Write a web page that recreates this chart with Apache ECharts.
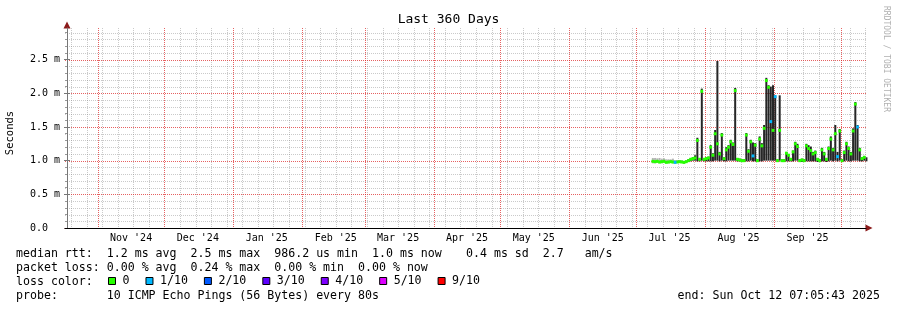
<!DOCTYPE html>
<html><head><meta charset="utf-8">
<script src="https://cdn.jsdelivr.net/npm/echarts@6/dist/echarts.min.js"></script>
<style>html,body{margin:0;padding:0;background:#fff}#c{width:897px;height:310px}</style>
</head><body><div id="c"></div>
<script>
// ---------- data ----------
const dates = [
'2025-07-08','2025-07-09','2025-07-10','2025-07-11','2025-07-12','2025-07-13','2025-07-14','2025-07-15','2025-07-16','2025-07-17','2025-07-18','2025-07-19','2025-07-20','2025-07-21','2025-07-22','2025-07-23','2025-07-24','2025-07-25','2025-07-26','2025-07-27','2025-07-28','2025-07-29','2025-07-30','2025-07-31',
'2025-08-01','2025-08-02','2025-08-03','2025-08-04','2025-08-05','2025-08-06','2025-08-07','2025-08-08','2025-08-09','2025-08-10','2025-08-11','2025-08-12','2025-08-13','2025-08-14','2025-08-15','2025-08-16','2025-08-17','2025-08-18','2025-08-19','2025-08-20','2025-08-21','2025-08-22','2025-08-23','2025-08-24','2025-08-25','2025-08-26','2025-08-27','2025-08-28','2025-08-29','2025-08-30','2025-08-31',
'2025-09-01','2025-09-02','2025-09-03','2025-09-04','2025-09-05','2025-09-06','2025-09-07','2025-09-08','2025-09-09','2025-09-10','2025-09-11','2025-09-12','2025-09-13','2025-09-14','2025-09-15','2025-09-16','2025-09-17','2025-09-18','2025-09-19','2025-09-20','2025-09-21','2025-09-22','2025-09-23','2025-09-24','2025-09-25','2025-09-26','2025-09-27','2025-09-28','2025-09-29','2025-09-30',
'2025-10-01','2025-10-02','2025-10-03','2025-10-04','2025-10-05','2025-10-06','2025-10-07','2025-10-08','2025-10-09','2025-10-10','2025-10-11','2025-10-12'];

// median rtt (ms)
const median = [
0.99,0.985,0.99,0.98,0.985,0.99,0.975,0.98,0.985,0.98,0.975,0.98,0.985,0.98,0.975,0.985,1.00,1.02,1.03,1.04,1.30,1.02,2.03,1.02,
1.03,1.04,1.20,1.08,1.40,1.25,1.10,1.38,1.03,1.16,1.20,1.28,1.24,2.04,1.02,1.01,1.00,1.00,1.38,1.14,1.28,1.07,1.23,1.00,1.32,1.22,1.48,2.19,2.09,1.58,1.45,
1.95,1.00,1.45,1.00,1.00,1.11,1.08,1.02,1.13,1.25,1.21,1.00,1.01,1.00,1.22,1.18,1.15,1.10,1.12,1.02,1.00,1.16,1.10,1.02,1.18,1.32,1.16,1.40,1.06,1.44,
1.00,1.12,1.25,1.18,1.10,1.44,1.84,1.50,1.16,1.03,1.05,1.03];

// smoke (ping spread) low / high (ms)
const smokeLow = [
0.96,0.96,0.965,0.96,0.96,0.965,0.96,0.96,0.965,0.96,0.96,0.965,0.97,0.965,0.96,0.97,0.98,0.99,1.00,1.00,0.99,0.99,1.00,0.99,
0.99,0.99,0.99,0.99,1.00,1.00,0.99,1.00,0.99,0.99,1.00,1.00,1.00,1.00,0.99,0.99,0.98,0.98,0.99,0.99,1.00,0.99,0.99,0.98,0.99,0.99,1.00,1.00,1.00,1.00,1.00,
1.00,0.98,1.00,0.98,0.98,0.99,0.99,0.99,0.99,1.00,1.00,0.98,0.98,0.98,0.99,0.99,0.99,0.99,0.99,0.98,0.98,0.99,0.99,0.98,0.99,1.00,0.99,1.00,0.99,1.00,
0.98,0.99,1.00,0.99,0.99,1.00,1.00,1.00,0.99,0.99,1.00,0.99];
const smokeHigh = [
1.04,1.04,1.035,1.04,1.03,1.035,1.02,1.02,1.02,1.03,1.00,1.00,1.00,1.00,0.995,1.00,1.02,1.04,1.05,1.08,1.34,1.04,2.07,1.04,
1.05,1.06,1.23,1.11,1.455,2.48,1.13,1.41,1.05,1.20,1.23,1.31,1.27,2.08,1.04,1.03,1.02,1.02,1.41,1.17,1.31,1.27,1.26,1.02,1.36,1.26,1.53,2.23,2.12,2.10,2.12,
1.97,1.02,1.97,1.02,1.02,1.13,1.10,1.04,1.15,1.28,1.25,1.02,1.03,1.02,1.25,1.23,1.21,1.13,1.15,1.04,1.02,1.19,1.13,1.04,1.21,1.36,1.19,1.53,1.13,1.47,
1.02,1.15,1.28,1.21,1.13,1.48,1.87,1.53,1.19,1.05,1.07,1.05];

// lost pings out of 10
const lossCount = [
0,0,0,0,0,0,0,0,0,0,1,0,0,0,0,0,0,0,0,0,0,0,0,0,
0,0,0,0,0,0,0,0,0,0,0,0,0,0,0,0,0,0,0,0,0,1,0,0,0,0,0,0,0,1,0,
1,0,0,0,0,0,0,0,0,0,0,0,0,0,0,0,0,0,0,0,0,0,0,0,0,0,0,0,1,0,
0,0,0,0,0,0,0,1,0,0,0,0];

const monthStarts = ['2024-11-01','2024-12-01','2025-01-01','2025-02-01','2025-03-01','2025-04-01','2025-05-01','2025-06-01','2025-07-01','2025-08-01','2025-09-01','2025-10-01'];
const monthLabels = ["Nov '24","Dec '24","Jan '25","Feb '25","Mar '25","Apr '25","May '25","Jun '25","Jul '25","Aug '25","Sep '25"];
const yTickValues = [0, 0.5, 1.0, 1.5, 2.0, 2.5];
const yTickLabels = ['0.0  ', '0.5 m', '1.0 m', '1.5 m', '2.0 m', '2.5 m'];
const lossNames = ['0','1/10','2/10','3/10','4/10','5/10','9/10'];
const lossColors = ['#26ff00','#00b8ff','#0059ff','#5e00ff','#7e00ff','#dd00ff','#ff0000'];

const legendRtt  = 'median rtt:  1.2 ms avg  2.5 ms max  986.2 us min  1.0 ms now';
const legendSd   = '0.4 ms sd  2.7   am/s';
const legendLoss = 'packet loss: 0.00 % avg  0.24 % max  0.00 % min  0.00 % now';
const legendProbe = 'probe:       10 ICMP Echo Pings (56 Bytes) every 80s';
const legendEnd = 'end: Sun Oct 12 07:05:43 2025';

// ---------- build ----------
const DAY = 86400000;
const END = Date.UTC(2025, 9, 12, 7, 5, 43);
const START = END - 360 * DAY;
const YMAX = 2.97;
function ts(s) { const p = s.split('-').map(Number); return Date.UTC(p[0], p[1] - 1, p[2]); }
const dayT = dates.map(s => ts(s) + DAY / 2);
const monthT = monthStarts.map(ts);
const labelT = monthLabels.map((l, i) => monthT[i] + 15 * DAY);
const weekT = [];
for (let w = Date.UTC(2024, 9, 20); w < END; w += 7 * DAY) { if (monthT.indexOf(w) < 0) weekT.push(w); }
const yMinor = [];
for (let i = 1; i < 30; i++) { if (i % 5) yMinor.push(i / 10); }

function lossLevel(c) { if (c <= 4) return c; if (c < 9) return 5; return 6; }

const FONT = 'DejaVu Sans Mono';
const GRID_COLORS = ['rgba(128,128,128,0.42)', 'rgba(220,30,30,0.7)'];

// grid line table: [x, y, kind(0 minor,1 major), orient(0 vertical,1 horizontal)]
const gridData = []
  .concat(weekT.map(t => [t, 0, 0, 0]))
  .concat(yMinor.map(v => [START, v, 0, 1]))
  .concat(monthT.map(t => [t, 0, 1, 0]))
  .concat(yTickValues.slice(1).map(v => [START, v, 1, 1]));

const medianSeries = lossNames.map((name, li) => ({
  type: 'scatter', name: name, silent: true, z: 5,
  symbol: 'rect', symbolSize: [2.8, 3],
  itemStyle: { color: lossColors[li], opacity: 1 },
  data: dayT.map((t, i) => lossLevel(lossCount[i]) === li ? [t, median[i]] : null).filter(d => d)
}));

function txt(x, y, text, extra) {
  return { type: 'text', x: x, y: y, silent: true,
    style: Object.assign({ text: text, fontFamily: FONT, fontSize: 11.6, fill: '#000',
      textVerticalAlign: 'middle', verticalAlign: 'middle' }, extra || {}) };
}

const chart = echarts.init(document.getElementById('c'), null, { renderer: 'canvas' });
chart.setOption({
  animation: false,
  backgroundColor: '#ffffff',
  title: { text: 'Last 360 Days', left: 'center', top: 13, padding: 0,
    textStyle: { fontFamily: FONT, fontSize: 13, fontWeight: 'normal', color: '#000' } },
  grid: { left: 65, top: 28, width: 801, height: 200, containLabel: false, outerBoundsMode: 'none' },
  legend: {
    data: lossNames.map(n => ({ name: n })), left: 108, top: 275, padding: 0,
    icon: 'rect', itemWidth: 7, itemHeight: 7, itemGap: 16, selectedMode: false,
    itemStyle: { borderColor: '#000', borderWidth: 1 },
    textStyle: { fontFamily: FONT, fontSize: 11.6, color: '#000', padding: [0, 0, 0, 2] }
  },
  xAxis: [
    { type: 'value', min: START, max: END, position: 'bottom', z: 2,
      axisLine: { show: true, lineStyle: { color: '#000', width: 1 } },
      axisTick: { show: false },
      axisLabel: { customValues: labelT, margin: 5, color: '#000', fontFamily: FONT, fontSize: 10,
        formatter: v => { const i = labelT.indexOf(v); return i >= 0 ? monthLabels[i] : ''; } },
      splitLine: { show: false } },
    { type: 'value', min: START, max: END, position: 'bottom', z: 1,
      axisLine: { show: true, symbol: ['none', 'triangle'], symbolSize: [7, 7], symbolOffset: [0, 3], lineStyle: { color: '#8b1a1a' } },
      axisTick: { show: false }, axisLabel: { show: false }, splitLine: { show: false } }
  ],
  yAxis: [
    { type: 'value', min: 0, max: YMAX, position: 'left', offset: -2, z: 2,
      axisLine: { show: true, lineStyle: { color: '#777', width: 1 } },
      axisTick: { show: true, customValues: yTickValues.slice(1), length: 3, lineStyle: { color: '#777' } },
      axisLabel: { customValues: yTickValues, margin: 7, color: '#000', fontFamily: FONT, fontSize: 10,
        formatter: v => { const i = yTickValues.indexOf(v); return i >= 0 ? yTickLabels[i] : ''; } },
      splitLine: { show: false } },
    { type: 'value', min: 0, max: YMAX, position: 'left', offset: -2, z: 1,
      axisLine: { show: true, symbol: ['none', 'triangle'], symbolSize: [7, 7], symbolOffset: [0, 3], lineStyle: { color: '#8b1a1a' } },
      axisTick: { show: true, customValues: yMinor, length: 2, lineStyle: { color: '#999' } },
      axisLabel: { show: false },
      splitLine: { show: false } },
    { type: 'value', min: 0, max: YMAX, position: 'left', offset: -2, z: 2,
      axisLine: { show: false },
      axisTick: { show: true, inside: true, customValues: yTickValues.slice(1), length: 3, lineStyle: { color: '#777' } },
      axisLabel: { show: false },
      splitLine: { show: false } }
  ],
  series: [
    { type: 'custom', name: 'grid', silent: true, z: 1,
      data: gridData, encode: { x: 0, y: 1 },
      renderItem: function (params, api) {
        const cs = params.coordSys;
        const p = api.coord([api.value(0), api.value(1)]);
        const stroke = GRID_COLORS[api.value(2)];
        if (api.value(3) === 0) {
          const x = Math.round(p[0]) + 0.5;
          return { type: 'line', shape: { x1: x, y1: cs.y, x2: x, y2: cs.y + cs.height },
            style: { stroke: stroke, lineWidth: 1, lineDash: [1, 1] } };
        }
        const y = Math.round(p[1]) + 0.5;
        return { type: 'line', shape: { x1: cs.x, y1: y, x2: cs.x + cs.width, y2: y },
          style: { stroke: stroke, lineWidth: 1, lineDash: [1, 1] } };
      } },
    { type: 'custom', name: 'smoke', silent: true, z: 3,
      data: dayT.map((t, i) => [t, smokeLow[i], smokeHigh[i]]),
      encode: { x: 0, y: [1, 2] },
      renderItem: function (params, api) {
        const t = api.value(0);
        const a = api.coord([t, api.value(1)]);
        const b = api.coord([t, api.value(2)]);
        return { type: 'rect', shape: { x: a[0] - 1, y: b[1], width: 2, height: Math.max(1, a[1] - b[1]) },
          style: { fill: params.dataIndex < 10 ? '#b4b4b4' : '#262626' } };
      } }
  ].concat(medianSeries),
  graphic: [
    txt(16, 254, legendRtt),
    txt(466, 254, legendSd),
    txt(16, 268, legendLoss),
    txt(16, 282, 'loss color:'),
    txt(16, 296, legendProbe),
    txt(880, 296, legendEnd, { textAlign: 'right', align: 'right' }),
    Object.assign(txt(10, 133, 'Seconds', { fontSize: 10.5, textAlign: 'center', align: 'center' }), { rotation: Math.PI / 2 }),
    Object.assign(txt(886, 59, 'RRDTOOL / TOBI OETIKER', { fontSize: 8, fill: '#b0b0b0', textAlign: 'center', align: 'center' }), { rotation: -Math.PI / 2 })
  ]
});
</script></body></html>
